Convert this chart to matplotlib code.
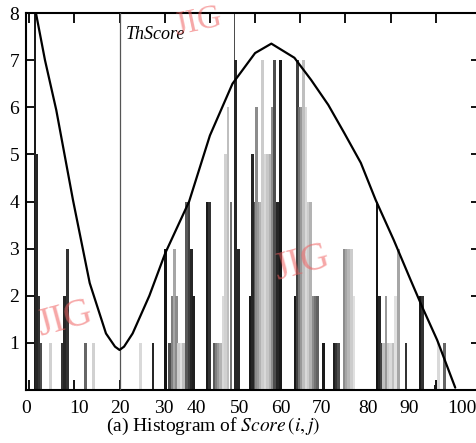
import matplotlib

matplotlib.use("Agg")

import matplotlib.pyplot as plt

plt.rcParams["font.family"] = ["Liberation Serif", "DejaVu Serif"]
plt.rcParams["mathtext.fontset"] = "stix"

# histogram of Score(i,j): bin centre, count
bar_x = [1.3, 1.7, 2.2, 2.6, 4.8, 7.4, 7.8, 8.5, 12.4, 14.3, 24.7, 27.4,
         30.2, 31.1, 31.6, 32.1, 32.6, 33.1, 33.6, 34.1, 34.9, 35.4, 35.9, 36.4,
         39.4, 39.9, 40.9, 41.4, 41.9, 42.4, 42.9, 43.4, 44.0, 44.7, 45.5, 45.7, 46.4,
         49.0, 49.5, 50.0, 50.3, 50.8, 51.2, 51.7, 52.3, 52.8, 53.3, 53.8, 54.3, 54.9, 55.7,
         58.9, 59.4, 59.8, 60.2, 60.7, 61.3, 61.8, 62.3, 62.8, 63.3, 63.8,
         65.2, 67.6, 68.0, 68.5, 69.7, 70.2, 70.7, 71.4, 71.9,
         77.0, 77.5, 78.0, 78.5, 79.0, 79.5, 80.0, 80.5, 81.0, 81.8, 83.4,
         86.5, 87.0, 89.9, 90.6, 92.0]
bar_h = [8.3, 5, 2, 1, 1, 1, 2, 3, 1, 1, 1, 1,
         3, 1, 2, 3, 2, 1, 1, 1, 4, 4, 3, 2,
         4, 4, 1, 1, 1, 1, 2, 5, 6, 4, 8.3, 7, 3,
         2, 5, 4, 6, 4, 4, 7, 5, 5, 5, 6, 7, 4, 7,
         2, 7, 6, 6, 7, 6, 4, 4, 2, 2, 2,
         1, 1, 1, 1, 3, 3, 3, 3, 2,
         4, 2, 1, 1, 2, 1, 1, 1, 2, 3, 1,
         2, 2, 0.1, 1, 1]
# grey level of each bar (0 black, 1 white)
bar_grey = [0.1, 0.15, 0.2, 0.3, 0.82, 0.2, 0.15, 0.2, 0.4, 0.82, 0.85, 0.15,
            0.08, 0.3, 0.5, 0.65, 0.55, 0.8, 0.88, 0.75, 0.35, 0.25, 0.15, 0.12,
            0.1, 0.2, 0.35, 0.5, 0.6, 0.7, 0.85, 0.82, 0.75, 0.45, 0.3, 0.15, 0.15,
            0.1, 0.15, 0.35, 0.55, 0.6, 0.7, 0.8, 0.85, 0.78, 0.7, 0.55, 0.3, 0.15, 0.1,
            0.1, 0.25, 0.45, 0.6, 0.75, 0.85, 0.8, 0.7, 0.55, 0.45, 0.38,
            0.1, 0.12, 0.2, 0.3, 0.55, 0.65, 0.72, 0.8, 0.88,
            0.08, 0.15, 0.25, 0.75, 0.6, 0.8, 0.85, 0.75, 0.88, 0.65, 0.2,
            0.1, 0.2, 0.1, 0.85, 0.4]

# fitted curve
curve_x = [1.5, 3.5, 6.0, 9.7, 13.4, 17.0, 19.0, 20.0, 21.0, 22.9, 26.6, 30.1, 35.4,
           40.0, 45.0, 50.0, 53.6, 58.7, 62.4, 66.2, 69.7, 73.4, 76.7, 80.7, 84.4,
           87.0, 90.3, 94.3]
curve_y = [8.0, 7.0, 5.94, 4.03, 2.27, 1.2, 0.92, 0.85, 0.92, 1.2, 2.0, 2.9, 4.0,
           5.4, 6.5, 7.15, 7.35, 7.05, 6.58, 6.05, 5.46, 4.82, 4.03, 3.18, 2.34,
           1.76, 1.06, 0.05]

th_score = 20

x_ticks = [0, 10, 20, 30, 40, 50, 60, 70, 80, 90, 100]
# where the labels sit under the axis in the original
x_label_pos = [-0.7, 11.0, 20.05, 29.9, 37.1, 46.6, 55.8, 64.6, 74.9, 84.0, 95.8]
y_ticks = [1, 2, 3, 4, 5, 6, 7, 8]

fig = plt.figure(figsize=(4.77, 4.43), dpi=100)
ax = fig.add_axes([26 / 477, 53 / 443, 455 / 477, 377 / 443])

widths = [0.3 if h > 8 else 0.6 for h in bar_h]
ax.bar(bar_x, bar_h, width=widths, color=[str(g) for g in bar_grey],
       linewidth=0, zorder=2)
ax.axvline(th_score, color="#555555", linewidth=0.9, zorder=3)
ax.plot(curve_x, curve_y, color="black", linewidth=1.6, zorder=4,
        solid_capstyle="round", solid_joinstyle="round")
ax.text(th_score + 1.3, 7.55, "ThScore", fontstyle="italic", fontsize=13,
        va="center", ha="left", zorder=5)

ax.set_xlim(0, 100)
ax.set_ylim(0, 8)
ax.xaxis.remove_overlapping_locs = False
ax.set_xticks(x_ticks)
ax.set_xticklabels([])
ax.set_xticks(x_label_pos, [str(t) for t in x_ticks], minor=True)
ax.set_yticks(y_ticks, [str(t) for t in y_ticks])
ax.tick_params(which="major", direction="in", length=7, width=1.3,
               top=True, right=True, labelsize=14, pad=5)
ax.tick_params(axis="x", which="minor", length=0, labelsize=14, pad=7)
for side in ["left", "bottom", "top", "right"]:
    ax.spines[side].set_linewidth(1.5)

fig.text(213 / 477, 1 - 426 / 443, r"(a) Histogram of $\mathit{Score}\,(i,j)$",
         ha="center", va="center", fontsize=14)

# journal watermarks
for x, y, s, rot in [(198 / 477, 1 - 22 / 443, 24, 12),
                     (302 / 477, 1 - 264 / 443, 28, 15),
                     (65 / 477, 1 - 320 / 443, 28, 15)]:
    fig.text(x, y, "JIG", color="#f06060", alpha=0.55, fontsize=s,
             rotation=rot, ha="center", va="center", zorder=10)

fig.savefig("out.png", dpi=100)
